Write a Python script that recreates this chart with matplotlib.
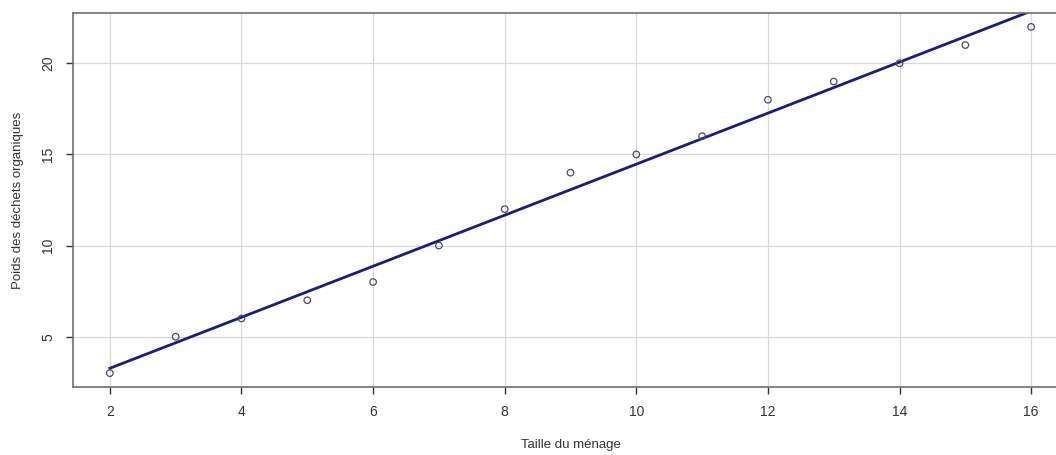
import matplotlib
matplotlib.use("Agg")
import matplotlib.pyplot as plt
import numpy as np

plt.rcParams['font.family'] = ['Liberation Sans', 'DejaVu Sans']

taille = [2, 3, 4, 5, 6, 7, 8, 9, 10, 11, 12, 13, 14, 15, 16]
poids = [3, 5, 6, 7, 8, 10, 12, 14, 15, 16, 18, 19, 20, 21, 22]
xticks = [2, 4, 6, 8, 10, 12, 14, 16]
yticks = [5, 10, 15, 20]

W, H = 1056, 455
fig = plt.figure(figsize=(W / 100, H / 100), dpi=100)
left, right, top, bottom = 73, 1068, 13, 387
ax = fig.add_axes([left / W, 1 - bottom / H, (right - left) / W, (bottom - top) / H])

x = np.array(taille, dtype=float)
y = np.array(poids, dtype=float)
xr = x.max() - x.min()
yr = y.max() - y.min()
ax.set_xlim(x.min() - 0.04 * xr, x.max() + 0.04 * xr)
ax.set_ylim(y.min() - 0.04 * yr, y.max() + 0.04 * yr)

# grid
for xt in xticks:
    ax.axvline(xt, color='#d9d9d9', lw=0.9, zorder=0)
for yt in yticks:
    ax.axhline(yt, color='#d9d9d9', lw=0.9, zorder=0)

ax.scatter(x, y, s=22, facecolors='none', edgecolors='#4a4a6a', linewidths=0.9, zorder=3)

slope, intercept = np.polyfit(x, y, 1)
ax.plot(x, intercept + slope * x, color='#1c1c7a', lw=2, zorder=2)

ax.set_xticks(xticks)
ax.set_yticks(yticks)
ax.set_yticklabels([str(v) for v in yticks], rotation=90, va='center')
ax.tick_params(axis='both', direction='out', length=5, width=1, color='#333333',
               labelsize=10, labelcolor='#333333', pad=8)

for sp in ax.spines.values():
    sp.set_color('#6e6e6e')
    sp.set_linewidth(1.2)

fig.text(0.5 * (1031 + 110) / W, 1 - 445 / H,
         'Taille du ménage', ha='center', va='center', fontsize=9.5, color='#333333')
fig.text(18 / W, 1 - (top + bottom) / 2 / H, 'Poids des déchets organiques', rotation=90,
         ha='center', va='center', fontsize=9.5, color='#333333')

fig.savefig('out.png', dpi=100)
